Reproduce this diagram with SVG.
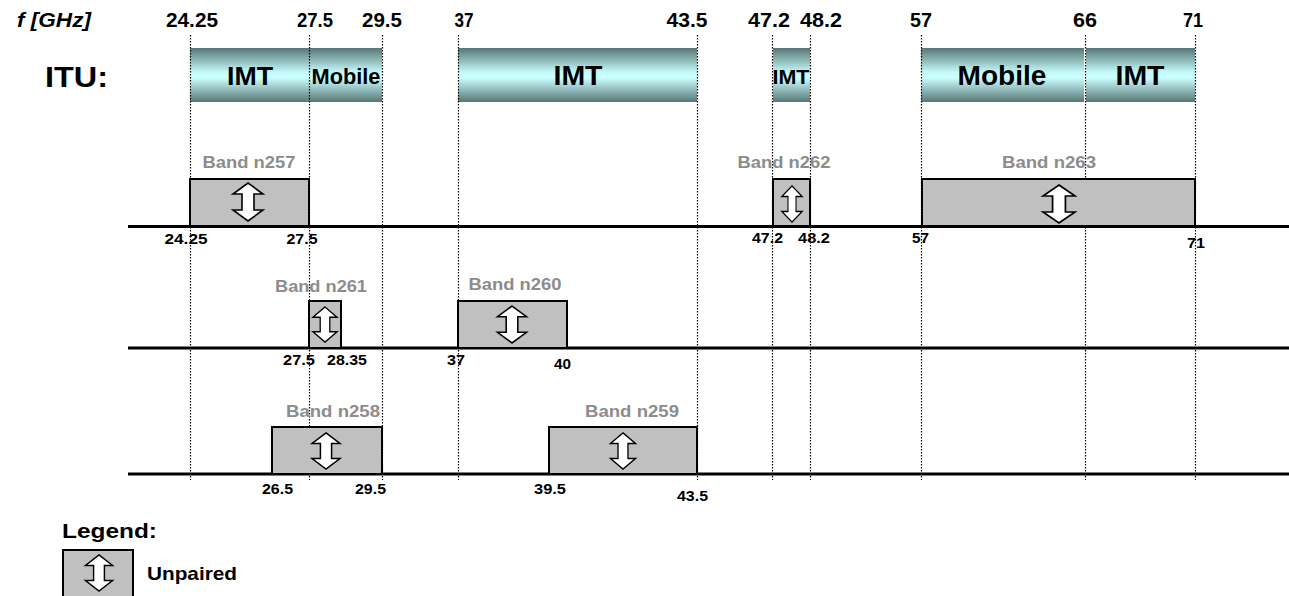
<svg xmlns="http://www.w3.org/2000/svg" xmlns:xlink="http://www.w3.org/1999/xlink" width="1289" height="596" viewBox="0 0 1289 596">
<style>
text{font-family:"Liberation Sans",Arial,sans-serif;font-weight:bold;fill:#000}
.top{font-size:19.5px;text-anchor:middle}
.itu{font-size:28px;text-anchor:middle}
.band{font-size:16.5px;fill:#8c8c8c;text-anchor:middle}
.num{font-size:15px;text-anchor:middle}
.dot{stroke:#000;stroke-width:1.2;stroke-dasharray:1.5 1.5;fill:none}
.axis{stroke:#000;stroke-width:3;fill:none}
.box{fill:#c0c0c0;stroke:#000;stroke-width:2}
.bar{fill:url(#g)}
.arr{fill:#fff;stroke:#000;stroke-width:1.6;vector-effect:non-scaling-stroke;stroke-linejoin:miter}
</style>
<defs>
<linearGradient id="g" x1="0" y1="0" x2="0" y2="1">
<stop offset="0" stop-color="#587676"/>
<stop offset="0.45" stop-color="#c4fafa"/>
<stop offset="0.55" stop-color="#ccffff"/>
<stop offset="1" stop-color="#587676"/>
</linearGradient>
<path id="ar" d="M0,-19 L15,-8 L6,-8 L6,8 L15,8 L0,19 L-15,8 L-6,8 L-6,-8 L-15,-8 Z"/>
</defs>

<g id="header">
<text x="17" y="27" style="font-size:20px;font-style:italic" textLength="74" lengthAdjust="spacingAndGlyphs">f [GHz]</text>
<text class="top" x="192" y="27" textLength="52" lengthAdjust="spacingAndGlyphs">24.25</text>
<text class="top" x="315" y="27" textLength="36" lengthAdjust="spacingAndGlyphs">27.5</text>
<text class="top" x="382" y="27" textLength="40" lengthAdjust="spacingAndGlyphs">29.5</text>
<text class="top" x="464" y="27" textLength="19" lengthAdjust="spacingAndGlyphs">37</text>
<text class="top" x="687" y="27" textLength="41" lengthAdjust="spacingAndGlyphs">43.5</text>
<text class="top" x="769" y="27" textLength="42" lengthAdjust="spacingAndGlyphs">47.2</text>
<text class="top" x="821" y="27" textLength="42" lengthAdjust="spacingAndGlyphs">48.2</text>
<text class="top" x="921" y="27" textLength="22" lengthAdjust="spacingAndGlyphs">57</text>
<text class="top" x="1085" y="27" textLength="24" lengthAdjust="spacingAndGlyphs">66</text>
<text class="top" x="1193" y="27" textLength="20" lengthAdjust="spacingAndGlyphs">71</text>
<text x="45" y="87" style="font-size:30px" textLength="63" lengthAdjust="spacingAndGlyphs">ITU:</text>
</g>

<g id="itu-bars">
<rect class="bar" x="190" y="48" width="119" height="54"/>
<rect class="bar" x="309" y="48" width="73" height="54"/>
<rect class="bar" x="458" y="48" width="239" height="54"/>
<rect class="bar" x="773" y="48" width="37" height="54"/>
<rect class="bar" x="921" y="48" width="163" height="54"/>
<rect class="bar" x="1086" y="48" width="109" height="54"/>
</g>

<g id="gridlines">
<line class="dot" x1="190.5" y1="35" x2="190.5" y2="480"/>
<line class="dot" x1="309.5" y1="35" x2="309.5" y2="480"/>
<line class="dot" x1="382.5" y1="35" x2="382.5" y2="480"/>
<line class="dot" x1="458.5" y1="35" x2="458.5" y2="480"/>
<line class="dot" x1="697.5" y1="35" x2="697.5" y2="480"/>
<line class="dot" x1="772.5" y1="35" x2="772.5" y2="480"/>
<line class="dot" x1="810.5" y1="35" x2="810.5" y2="480"/>
<line class="dot" x1="921.5" y1="35" x2="921.5" y2="480"/>
<line class="dot" x1="1085.5" y1="35" x2="1085.5" y2="480"/>
<line class="dot" x1="1195.5" y1="35" x2="1195.5" y2="480"/>
</g>

<g id="itu-labels">
<text class="itu" x="250" y="85" style="font-size:26px" textLength="46" lengthAdjust="spacingAndGlyphs">IMT</text>
<text class="itu" x="346" y="84" style="font-size:22px" textLength="69" lengthAdjust="spacingAndGlyphs">Mobile</text>
<text class="itu" x="578" y="85" textLength="49" lengthAdjust="spacingAndGlyphs">IMT</text>
<text class="itu" x="791" y="84" style="font-size:20px" textLength="37" lengthAdjust="spacingAndGlyphs">IMT</text>
<text class="itu" x="1002" y="85" textLength="89" lengthAdjust="spacingAndGlyphs">Mobile</text>
<text class="itu" x="1140" y="85" textLength="49" lengthAdjust="spacingAndGlyphs">IMT</text>
</g>

<g id="axes">
<line class="axis" x1="128" y1="226.5" x2="1289" y2="226.5"/>
<line class="axis" x1="128" y1="348" x2="1289" y2="348"/>
<line class="axis" x1="128" y1="474" x2="1289" y2="474"/>
</g>

<g id="n257">
<text class="band" x="249" y="168" textLength="93" lengthAdjust="spacingAndGlyphs">Band n257</text>
<rect class="box" x="190" y="179" width="119" height="47"/>
<use xlink:href="#ar" class="arr" transform="translate(248,202) scale(1,1)"/>
</g>
<g id="n262">
<text class="band" x="784" y="168" textLength="93" lengthAdjust="spacingAndGlyphs">Band n262</text>
<rect class="box" x="773" y="179" width="37" height="47"/>
<use xlink:href="#ar" class="arr" transform="translate(792,204) scale(0.67,0.95)"/>
</g>
<g id="n263">
<text class="band" x="1049" y="168" textLength="94" lengthAdjust="spacingAndGlyphs">Band n263</text>
<rect class="box" x="922" y="179" width="273" height="47"/>
<use xlink:href="#ar" class="arr" transform="translate(1059,204) scale(1.07,1)"/>
</g>
<g id="n261">
<text class="band" x="321" y="292" textLength="92" lengthAdjust="spacingAndGlyphs">Band n261</text>
<rect class="box" x="309" y="301" width="32" height="47"/>
<use xlink:href="#ar" class="arr" transform="translate(325,324.5) scale(0.8,0.92)"/>
</g>
<g id="n260">
<text class="band" x="515" y="290" textLength="93" lengthAdjust="spacingAndGlyphs">Band n260</text>
<rect class="box" x="458" y="301" width="109" height="47"/>
<use xlink:href="#ar" class="arr" transform="translate(512,324.5) scale(0.97,0.97)"/>
</g>
<g id="n258">
<text class="band" x="333" y="417" textLength="94" lengthAdjust="spacingAndGlyphs">Band n258</text>
<rect class="box" x="272" y="427" width="110" height="47"/>
<use xlink:href="#ar" class="arr" transform="translate(326,451) scale(0.93,0.95)"/>
</g>
<g id="n259">
<text class="band" x="632" y="417" textLength="94" lengthAdjust="spacingAndGlyphs">Band n259</text>
<rect class="box" x="549" y="427" width="148" height="47"/>
<use xlink:href="#ar" class="arr" transform="translate(623,451) scale(0.83,0.95)"/>
</g>

<g id="edge-labels">
<text class="num" x="186" y="244" textLength="43" lengthAdjust="spacingAndGlyphs">24.25</text>
<text class="num" x="302" y="244" textLength="31" lengthAdjust="spacingAndGlyphs">27.5</text>
<text class="num" x="767.5" y="243" textLength="31" lengthAdjust="spacingAndGlyphs">47.2</text>
<text class="num" x="814" y="243" textLength="32" lengthAdjust="spacingAndGlyphs">48.2</text>
<text class="num" x="920.5" y="243" textLength="17" lengthAdjust="spacingAndGlyphs">57</text>
<text class="num" x="1196" y="248" textLength="18" lengthAdjust="spacingAndGlyphs">71</text>
<text class="num" x="299" y="365" textLength="32" lengthAdjust="spacingAndGlyphs">27.5</text>
<text class="num" x="347" y="365" textLength="40" lengthAdjust="spacingAndGlyphs">28.35</text>
<text class="num" x="456" y="365" textLength="18" lengthAdjust="spacingAndGlyphs">37</text>
<text class="num" x="562.5" y="369" textLength="17" lengthAdjust="spacingAndGlyphs">40</text>
<text class="num" x="277.5" y="494" textLength="31" lengthAdjust="spacingAndGlyphs">26.5</text>
<text class="num" x="370.5" y="494" textLength="31" lengthAdjust="spacingAndGlyphs">29.5</text>
<text class="num" x="550" y="494" textLength="32" lengthAdjust="spacingAndGlyphs">39.5</text>
<text class="num" x="692.5" y="501" textLength="31" lengthAdjust="spacingAndGlyphs">43.5</text>
</g>

<g id="legend">
<text x="62" y="538" style="font-size:21px" textLength="95" lengthAdjust="spacingAndGlyphs">Legend:</text>
<rect class="box" x="63" y="550" width="70" height="48"/>
<use xlink:href="#ar" class="arr" transform="translate(99,573) scale(0.9,0.95)"/>
<text x="147" y="580" style="font-size:19px" textLength="90" lengthAdjust="spacingAndGlyphs">Unpaired</text>
</g>
</svg>
